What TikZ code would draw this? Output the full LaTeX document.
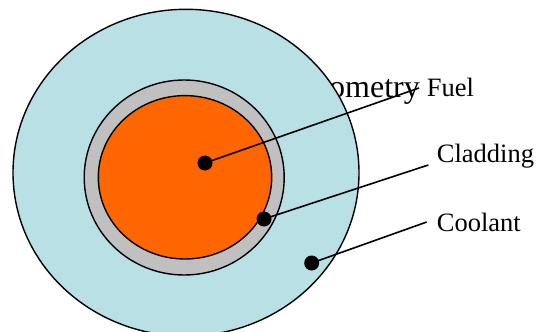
\documentclass[tikz,border=0pt]{standalone}
\usepackage{fontspec}
\setmainfont{Liberation Serif}
\usepackage{tikz}
\usetikzlibrary{positioning}
\definecolor{coolantblue}{RGB}{185,224,228}
\definecolor{cladgrey}{RGB}{192,192,192}
\definecolor{fuelorange}{RGB}{255,102,0}

\begin{document}
\begin{tikzpicture}[
  x=1pt, y=-1pt,
  every node/.style={font=\fontsize{26.5}{31}\selectfont},
  region/.style={draw=black, line width=1.4pt},
  dotmark/.style={circle, fill=black, minimum size=15pt, inner sep=0pt},
  label text/.style={anchor=base west, inner sep=0pt},
  leader/.style={line width=1.6pt}
]
\clip (0,0) rectangle (536,332);
% title sits behind the coolant region
\node[anchor=base east, inner sep=0pt, font=\fontsize{32}{36}\selectfont] (title) at (420,97) {Geometry};
% pin cross section
\draw[region, fill=coolantblue] (186,172.7) ellipse [x radius=173, y radius=163.4];
\draw[region, fill=cladgrey] (184.2,177.5) ellipse [x radius=100, y radius=97.5];
\draw[region, fill=fuelorange] (185,177.3) ellipse [x radius=86.7, y radius=81.7];
% markers
\node[dotmark] (fueldot) at (205,163) {};
\node[dotmark] (claddot) at (264,219) {};
\node[dotmark] (cooldot) at (311.7,263) {};
% labels
\node[label text] (fuellbl) at (426.7,96) {Fuel};
\node[label text] (cladlbl) at (436.7,162.3) {Cladding};
\node[label text] (coollbl) at (436.7,231.7) {Coolant};
\coordinate (fuelend) at (419,88);
\coordinate (cladend) at (428.3,165);
\coordinate (coolend) at (426.7,222);
\draw[leader] (fueldot.center) -- (fuelend);
\draw[leader] (claddot.center) -- (cladend);
\draw[leader] (cooldot.center) -- (coolend);
\end{tikzpicture}
\end{document}
